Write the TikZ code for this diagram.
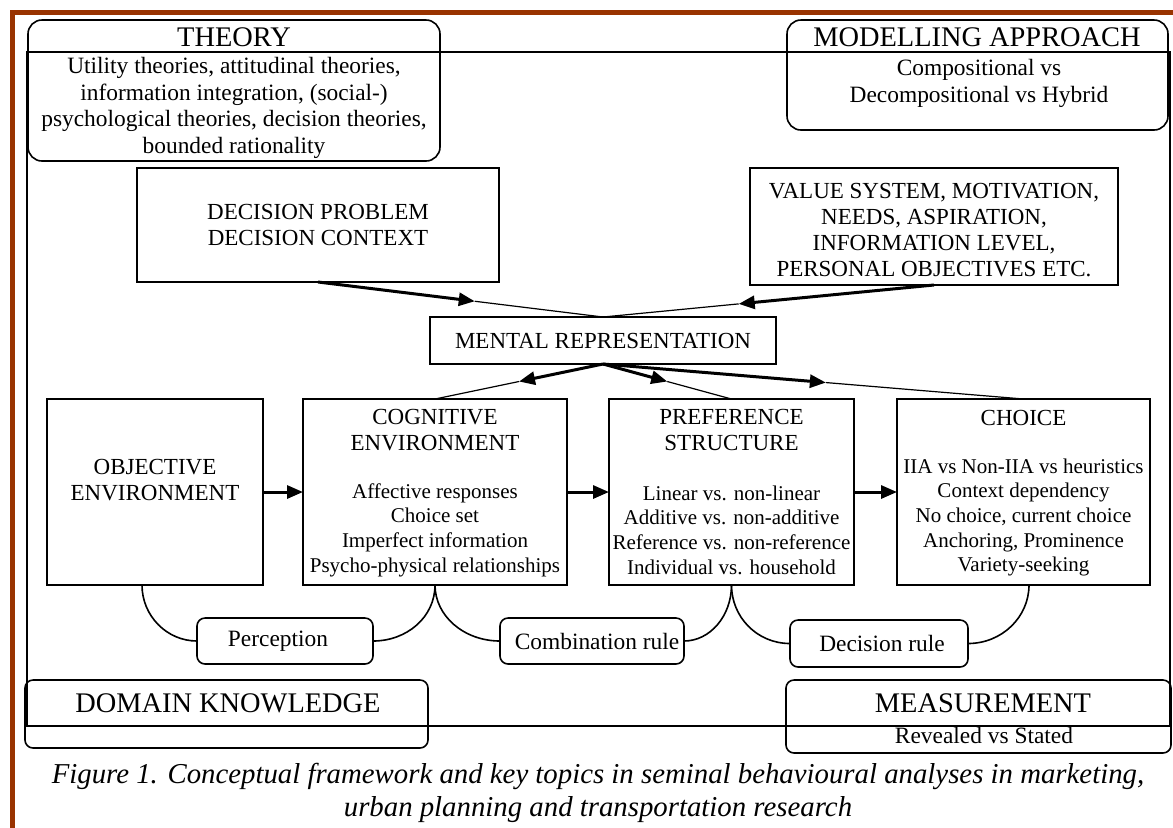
\documentclass[tikz,border=0pt]{standalone}
\usepackage{fontspec}
\setmainfont{Liberation Serif}
\usetikzlibrary{arrows.meta,calc}
\definecolor{framebrown}{RGB}{153,51,0}
\begin{document}
\begin{tikzpicture}[x=0.5pt,y=-0.5pt,
  box/.style={draw, line width=0.8pt, inner sep=0pt, outer sep=0pt},
  rbox/.style={box, rounded corners=7pt},
  sbox/.style={box, rounded corners=4pt},
  txt/.style={font=\fontsize{11.7}{13.35}\selectfont, align=center, inner sep=0pt},
  ttl/.style={font=\fontsize{11.5}{13}\selectfont, align=center, inner sep=0pt},
  itm/.style={font=\fontsize{10.5}{12.35}\selectfont, align=center, inner sep=0pt},
  hdr/.style={font=\fontsize{14.2}{16}\selectfont, align=center, inner sep=0pt},
  captext/.style={font=\fontsize{14.4}{16.5}\selectfont\itshape, align=center, inner sep=0pt},
  thickarrow/.style={line width=1.5pt, -{Triangle[length=8pt,width=6.5pt]}},
  thinline/.style={line width=0.6pt},
  arcline/.style={line width=0.8pt}]
\useasboundingbox (0,0) rectangle (1173,827);
\draw[line width=2.5pt, framebrown] (12.5,840) -- (12.5,12.5) -- (1185,12.5);
% outer frame
\node[box, minimum width=571.5pt, minimum height=337pt] (frame) at (598.5,389) {};
% corner boxes
\node[rbox, minimum width=206pt, minimum height=70.5pt] (theory) at (234,90.5) {};
\node[hdr] (theoryh) at (234,37) {THEORY};
\node[txt] (theoryb) at (234,108) {Utility theories, attitudinal theories,\\ information integration, (social-)\\ psychological theories, decision theories,\\ bounded rationality};
\node[rbox, minimum width=190.5pt, minimum height=55pt] (model) at (977.5,75) {};
\node[hdr] (modelh) at (977,37) {MODELLING APPROACH};
\node[txt] (modelb) at (979,83.5) {Compositional vs\\ Decompositional vs Hybrid};
\node[rbox, rounded corners=4pt, minimum width=201.5pt, minimum height=34pt] (domain) at (226.5,714) {};
\node[hdr] (domainh) at (228,703) {DOMAIN KNOWLEDGE};
\node[rbox, rounded corners=4pt, minimum width=192.5pt, minimum height=36.5pt] (meas) at (978.5,716.5) {};
\node[hdr] (meash) at (983,703) {MEASUREMENT};
\node[txt] (measb) at (984,735) {Revealed vs Stated};
% top boxes
\node[box, minimum width=181pt, minimum height=57pt] (dec) at (318,225) {};
\node[ttl] (dect) at (318,225) {DECISION PROBLEM\\ DECISION CONTEXT};
\node[box, minimum width=184pt, minimum height=58.5pt] (val) at (934,226.5) {};
\node[ttl] (valt) at (934,230) {VALUE SYSTEM, MOTIVATION,\\ NEEDS, ASPIRATION,\\ INFORMATION LEVEL,\\ PERSONAL OBJECTIVES ETC.};
\node[box, minimum width=173pt, minimum height=23.5pt] (mental) at (603,340.5) {};
\node[ttl] (mentalt) at (603,341) {MENTAL REPRESENTATION};
% main row
\node[box, minimum width=108pt, minimum height=93pt] (obj) at (155,492) {};
\node[ttl] (objt) at (155,480) {OBJECTIVE\\ ENVIRONMENT};
\node[box, minimum width=132pt, minimum height=93pt] (cog) at (435,492) {};
\node[ttl] (cogh) at (435,430) {COGNITIVE\\ ENVIRONMENT};
\node[itm] (cogb) at (435,530) {Affective responses\\ Choice set\\ Imperfect information\\ Psycho-physical relationships};
\node[box, minimum width=122.5pt, minimum height=93pt] (pref) at (731.5,492) {};
\node[ttl] (prefh) at (731.5,430) {PREFERENCE\\ STRUCTURE};
\node[itm] (prefb) at (731.5,530) {Linear vs. non-linear\\ Additive vs. non-additive\\ Reference vs. non-reference\\ Individual vs. household};
\node[box, minimum width=126.5pt, minimum height=93pt] (choice) at (1023.5,492) {};
\node[ttl] (choiceh) at (1023.5,418) {CHOICE};
\node[itm] (choiceb) at (1023.5,517.5) {IIA vs Non-IIA vs heuristics\\ Context dependency\\ No choice, current choice\\ Anchoring, Prominence\\ Variety-seeking};
% rule boxes
\node[sbox, minimum width=88pt, minimum height=23pt] (perc) at (285,641) {};
\node[txt] (perct) at (278,641) {Perception};
\node[sbox, minimum width=92pt, minimum height=23pt] (comb) at (592,641) {};
\node[txt] (combt) at (597,641) {Combination rule};
\node[sbox, minimum width=89pt, minimum height=23.5pt] (drule) at (879,643.5) {};
\node[txt] (drulet) at (882,643.5) {Decision rule};
% arrows into mental representation
\coordinate (m1) at ($(dec.south)!0.55!(mental.north)$);
\coordinate (m2) at ($(val.south)!0.59!(mental.north)$);
\draw[thickarrow] (dec.south) -- (m1);
\draw[thinline] (m1) -- (mental.north);
\draw[thickarrow] (val.south) -- (m2);
\draw[thinline] (m2) -- (mental.north);
% arrows out of mental representation
\coordinate (n1) at ($(mental.south)!0.5!(cog.north)$);
\coordinate (n2) at ($(mental.south)!0.5!(pref.north)$);
\coordinate (n3) at ($(mental.south)!0.53!(choice.north)$);
\draw[thickarrow] (mental.south) -- (n1);
\draw[thinline] (n1) -- (cog.north);
\draw[thickarrow] (mental.south) -- (n2);
\draw[thinline] (n2) -- (pref.north);
\draw[thickarrow] (mental.south) -- (n3);
\draw[thinline] (n3) -- (choice.north);
% horizontal arrows
\draw[thickarrow] (obj.east) -- (cog.west);
\draw[thickarrow] (cog.east) -- (pref.west);
\draw[thickarrow] (pref.east) -- (choice.west);
% arcs
\coordinate (objb) at ([xshift=-6.5pt]obj.south);
\coordinate (choiceb2) at ([xshift=2.75pt]choice.south);
\draw[arcline] (objb) .. controls +(0,31) and +(-30,0) .. (perc.west);
\draw[arcline] (perc.east) .. controls +(34,0) and +(0,32) .. (cog.south);
\draw[arcline] (cog.south) .. controls +(0,31) and +(-36,0) .. (comb.west);
\draw[arcline] (comb.east) .. controls +(26,0) and +(0,31) .. (pref.south);
\draw[arcline] (pref.south) .. controls +(0,32) and +(-33,0) .. (drule.west);
\draw[arcline] (drule.east) .. controls +(34,0) and +(0,32) .. (choiceb2);
% caption
\node[captext] (caption) at (598,792.5) {Figure 1. Conceptual framework and key topics in seminal behavioural analyses in marketing,\\ urban planning and transportation research};
\end{tikzpicture}
\end{document}
